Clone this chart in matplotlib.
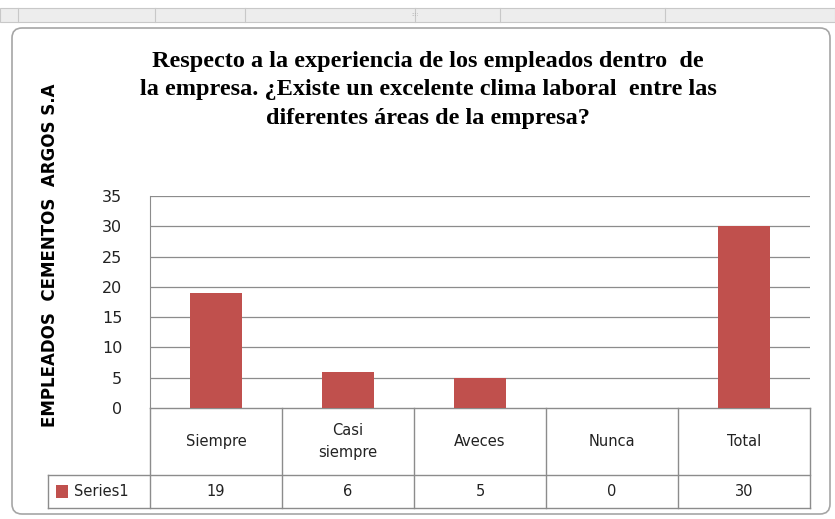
import matplotlib.pyplot as plt
from matplotlib.patches import FancyBboxPatch, Rectangle

# datos
categorias = ["Siempre", "Casi\nsiempre", "Aveces", "Nunca", "Total"]
valores = [19, 6, 5, 0, 30]
serie = "Series1"
yticks = [0, 5, 10, 15, 20, 25, 30, 35]

titulo = ("Respecto a la experiencia de los empleados dentro  de\n"
          "la empresa. ¿Existe un excelente clima laboral  entre las\n"
          "diferentes áreas de la empresa?")
ylabel = "EMPLEADOS  CEMENTOS  ARGOS S.A"

COLOR = "#C0504D"
GRID = "#8C8C8C"

W, H = 835, 519
fig = plt.figure(figsize=(W / 100, H / 100), dpi=100)
fig.patch.set_facecolor("white")

# barra gris superior (estilo hoja de calculo)
top = fig.add_axes([0, 0, 1, 1], zorder=-5)
top.set_xlim(0, W)
top.set_ylim(H, 0)
top.axis("off")
top.add_patch(Rectangle((0, 8), W, 14, facecolor="#EDEDED", edgecolor="#C8C8C8", lw=0.8))
for xv in [18, 155, 245, 415, 500, 665]:
    top.plot([xv, xv], [8, 22], color="#C8C8C8", lw=0.8)
top.text(415, 15, "::::", fontsize=4, color="#A0A0A0", ha="center", va="center")
top.add_patch(FancyBboxPatch((12, 28), 818, 486, boxstyle="round,pad=0,rounding_size=10",
                             facecolor="white", edgecolor="#A6A6A6", lw=1.2))

# area de grafico: x 150..810, y 196..408 px
left, right, ytop, ybot = 150, 810, 196, 408
ax = fig.add_axes([left / W, 1 - ybot / H, (right - left) / W, (ybot - ytop) / H])
ax.set_xlim(0, len(categorias))
ax.set_ylim(0, 35)
x = [i + 0.5 for i in range(len(categorias))]
ax.bar(x, valores, width=0.4, color=COLOR, zorder=3)

ax.set_yticks(yticks)
ax.tick_params(axis="y", length=0, pad=20, labelsize=11.5, labelcolor="#222222")
ax.set_xticks([])
for yv in yticks[1:]:
    ax.axhline(yv, color=GRID, lw=0.9, zorder=1)
for s in ["top", "right", "bottom"]:
    ax.spines[s].set_visible(False)
ax.spines["left"].set_color(GRID)

# tabla de datos debajo del eje
ppu = (ybot - ytop) / 35.0
fila1 = -(475 - ybot) / ppu
fila2 = -(508 - ybot) / ppu
x_izq = (48 - left) / ((right - left) / len(categorias))
kw = dict(color=GRID, lw=1.0, clip_on=False)
ax.plot([0, len(categorias)], [0, 0], **kw)
ax.plot([x_izq, len(categorias)], [fila1, fila1], **kw)
ax.plot([x_izq, len(categorias)], [fila2, fila2], **kw)
ax.plot([x_izq, x_izq], [fila1, fila2], **kw)
for i in range(len(categorias) + 1):
    ax.plot([i, i], [0, fila2], **kw)
for xi, cat, v in zip(x, categorias, valores):
    ax.text(xi, fila1 / 2, cat, ha="center", va="center", fontsize=10.5,
            color="#222222", linespacing=1.6)
    ax.text(xi, (fila1 + fila2) / 2, str(v), ha="center", va="center",
            fontsize=10.5, color="#222222")
ax.add_patch(Rectangle((x_izq + 0.06, (fila1 + fila2) / 2 - 1.0), 0.09, 2.0,
                       facecolor=COLOR, clip_on=False))
ax.text(x_izq + 0.2, (fila1 + fila2) / 2, serie, ha="left", va="center",
        fontsize=10.5, color="#222222")

# titulo y etiqueta del eje y
fig.text(428 / W, 1 - 90 / H, titulo, ha="center", va="center", fontsize=17.5,
         fontweight="bold", family="Liberation Serif", linespacing=1.45)
fig.text(50 / W, 1 - 255 / H, ylabel, rotation=90, ha="center", va="center",
         fontsize=12, fontweight="bold")

fig.savefig("out.png", dpi=100)
